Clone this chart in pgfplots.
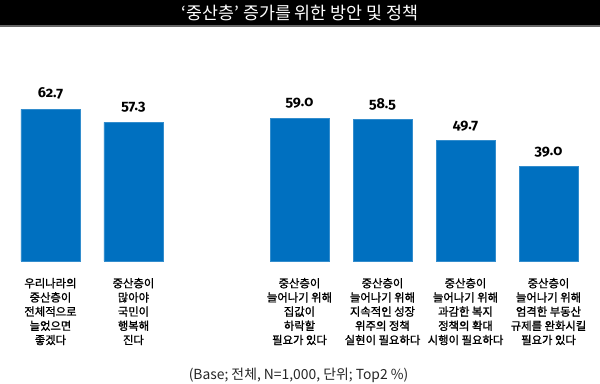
\documentclass[border=0pt]{standalone}
\usepackage{pgfplots}
\pgfplotsset{compat=1.18}
\usepackage{fontspec}
\setmainfont{Noto Sans CJK KR}
\newfontfamily\lblfont[FakeBold=1.2]{Noto Sans CJK KR}
\newfontfamily\numfont[Numbers=OldStyle]{Fira Sans}
\definecolor{barblue}{RGB}{0,112,192}
\begin{document}
\begin{tikzpicture}
\path[use as bounding box] (0,0) rectangle (450pt,287.25pt);
\fill[black] (0,268.5pt) rectangle (450pt,287.25pt);
\fill[black!60] (0,267.3pt) rectangle (450pt,268.6pt);
\node[white,font=\fontsize{13}{15}\selectfont] at (225pt,277.6pt) {‘중산층’ 증가를 위한 방안 및 정책};
\begin{axis}[
  at={(0,91.5pt)}, anchor=south west,
  scale only axis, width=450pt, height=176.25pt,
  xmin=-0.608, xmax=6.62, ymin=0, ymax=97.1,
  axis line style={draw=none},
  major tick length=0pt,
  ytick=\empty,
  xtick={0,1,3,4,5,6},
  xticklabels={{우리나라의\\중산층이\\전체적으로\\늘었으면\\좋겠다},
    {중산층이\\많아야\\국민이\\행복해\\진다},
    {중산층이\\늘어나기 위해\\집값이\\하락할\\필요가 있다},
    {중산층이\\늘어나기 위해\\지속적인 성장\\위주의 정책\\실현이 필요하다},
    {중산층이\\늘어나기 위해\\과감한 복지\\정책의 확대\\시행이 필요하다},
    {중산층이\\늘어나기 위해\\엄격한 부동산\\규제를 완화시킬\\필요가 있다}},
  xticklabel style={align=center, anchor=north, font=\lblfont\fontsize{8.5}{10.65}\selectfont, yshift=-9.25pt},
  ybar, bar width=44.25pt, bar shift=0pt,
  /pgf/number format/assume math mode=true,
  nodes near coords={\pgfmathprintnumber[fixed,fixed zerofill,precision=1]{\pgfplotspointmeta}},
  every node near coord/.append style={anchor=base, yshift=8.5pt, font=\numfont\bfseries\fontsize{10.8}{12}\selectfont, text=black},
  clip=false,
]
\addplot[fill=barblue, draw=barblue!80!white] coordinates {(0,62.7) (1,57.3) (3,59.0) (4,58.5) (5,49.7) (6,39.0)};
\end{axis}
\node[font=\fontsize{10.4}{12}\selectfont, text=black!85] at (223.9pt,6pt) {(Base; 전체, N=1,000, 단위; Top2 \%)};
\end{tikzpicture}
\end{document}
